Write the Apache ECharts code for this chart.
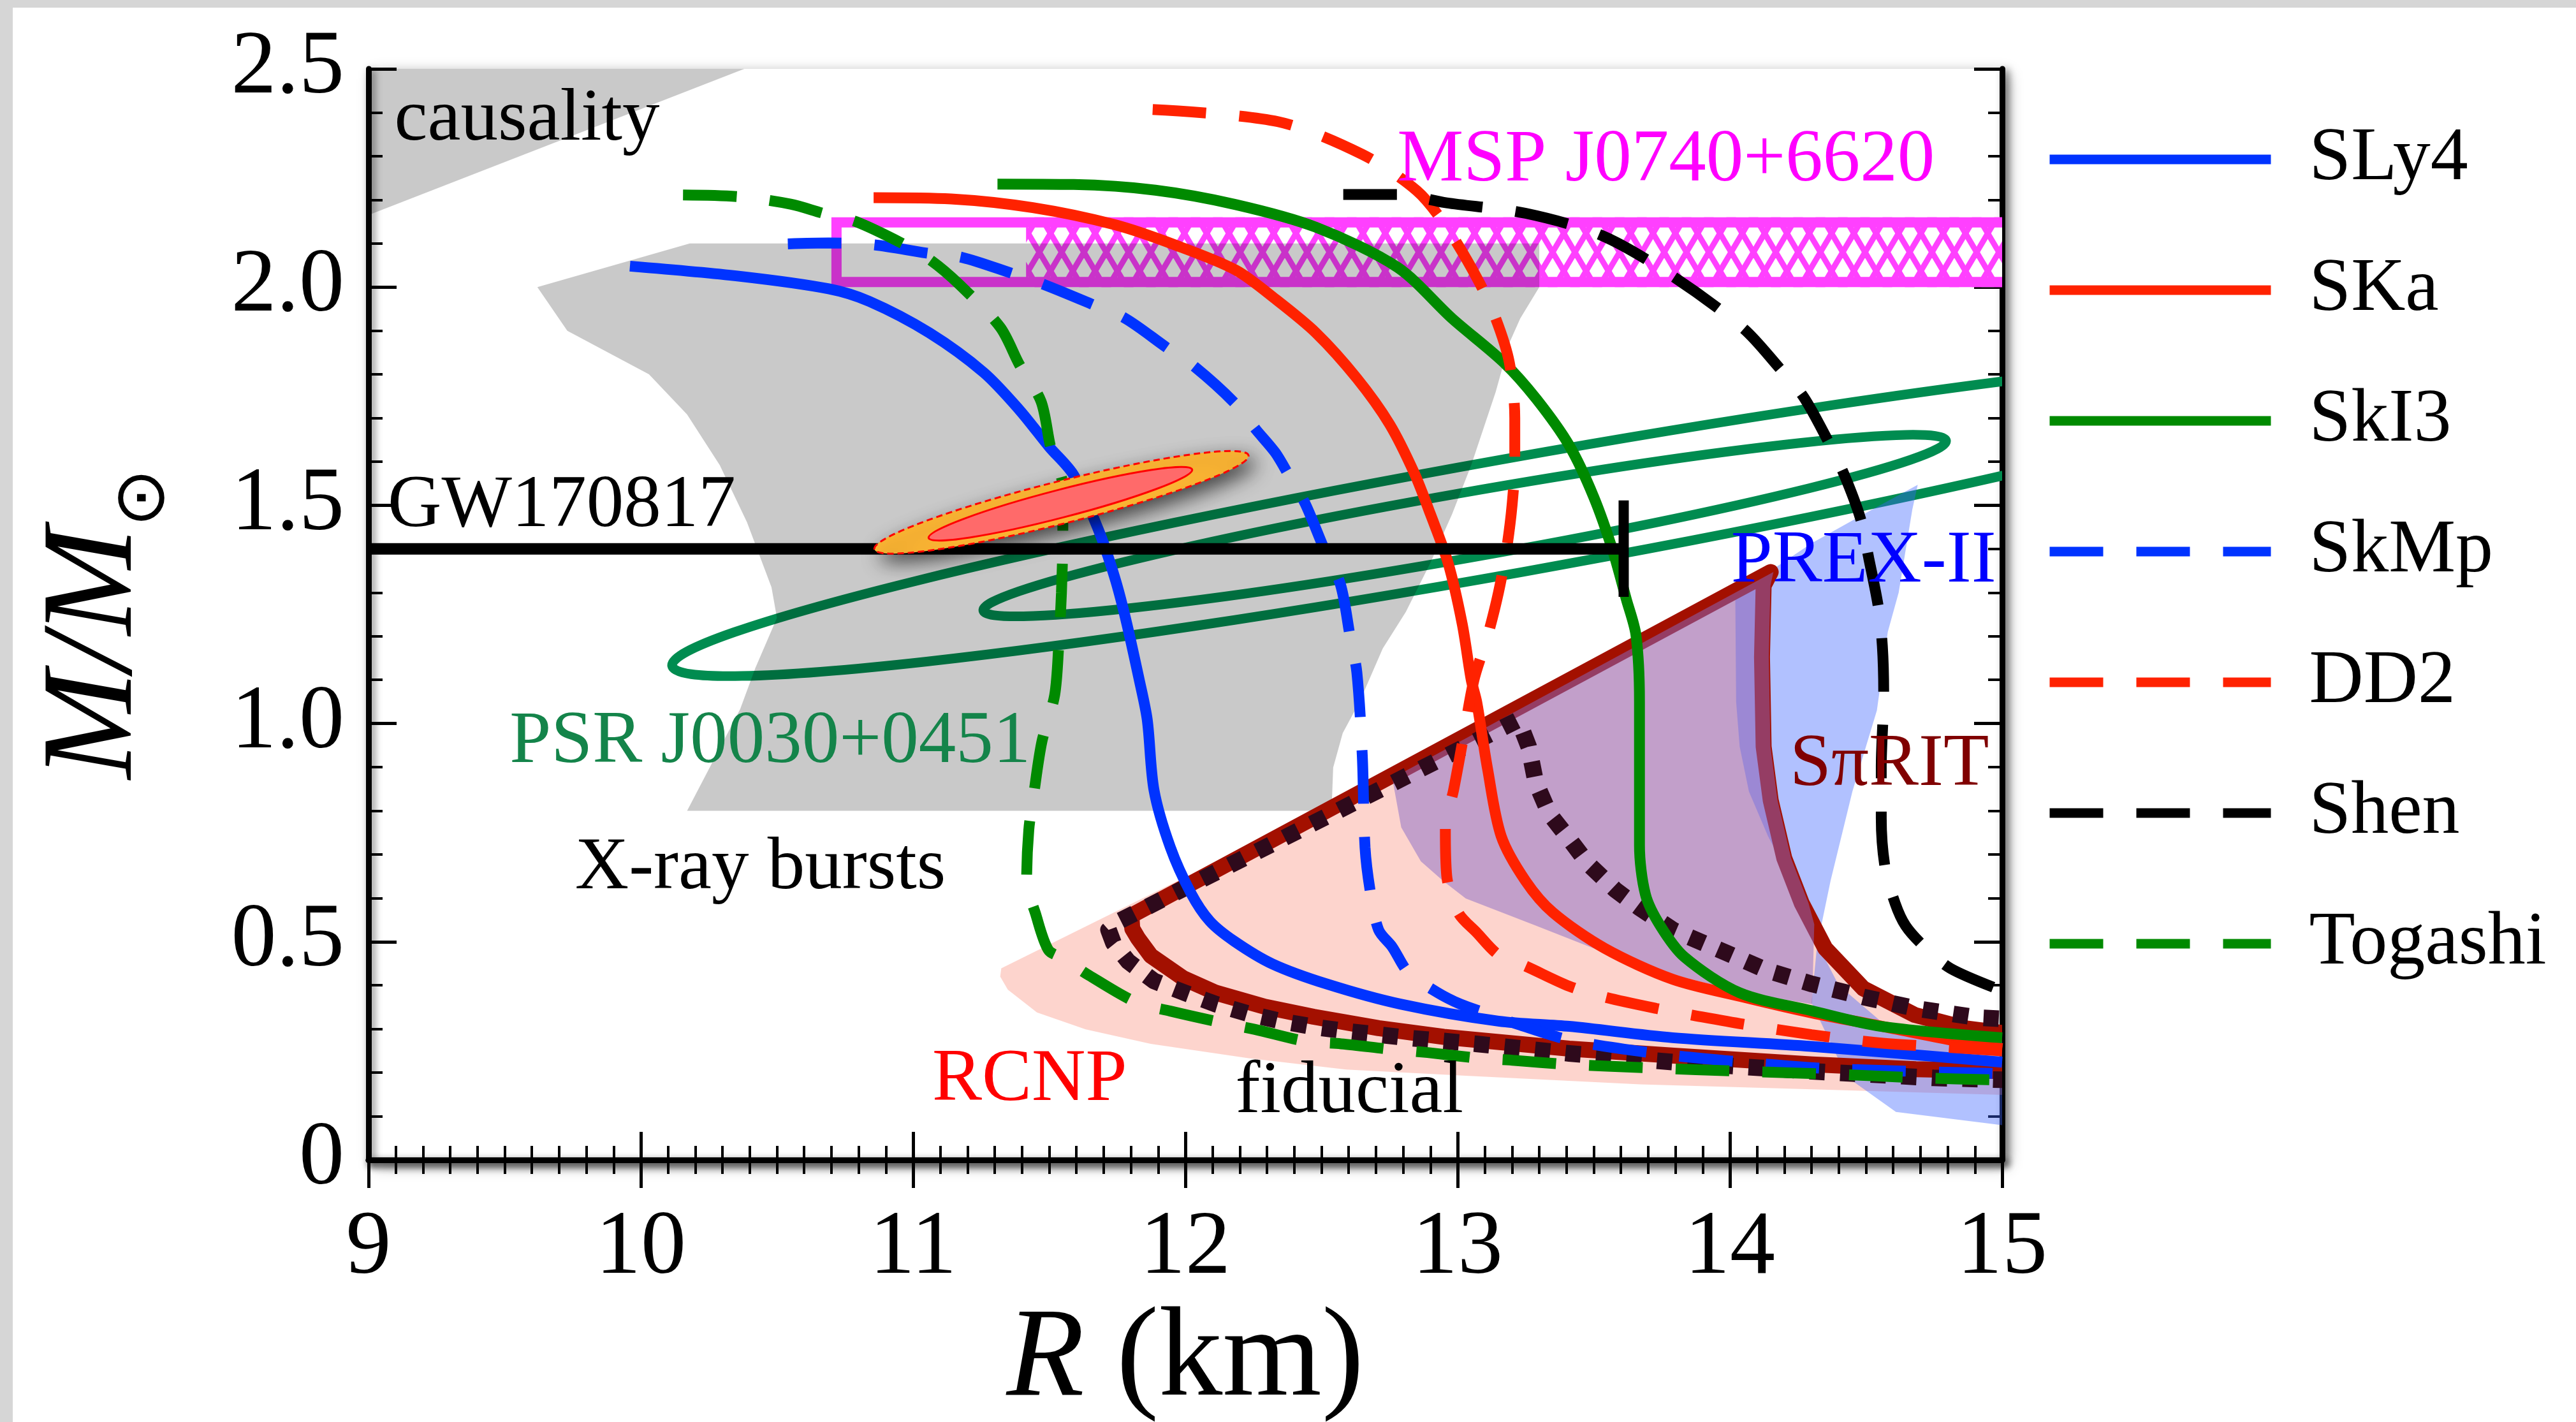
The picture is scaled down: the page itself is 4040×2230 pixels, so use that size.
<!DOCTYPE html>
<html>
<head>
<meta charset="utf-8">
<title>Neutron star M-R</title>
<script src="https://cdn.jsdelivr.net/npm/echarts/dist/echarts.min.js"></script>
<style>
  html, body { margin: 0; padding: 0; background: #d6d6d6; }
  #main { position: absolute; left: 20px; top: 12px; width: 4020px; height: 2218px; background: #fff; }
</style>
</head>
<body>
<div id="main"></div>
<script>
var FONT = "Liberation Serif";

// tick labels
var xTicks = [9, 10, 11, 12, 13, 14, 15];
var yTicks = [0, 0.5, 1.0, 1.5, 2.0, 2.5];

// EoS curves, [R (km), M/Msun]
var sly4 = [[9.96,2.048],[10.36,2.025],[10.69,1.996],[10.84,1.967],[11.06,1.895],[11.26,1.804],[11.39,1.719],[11.50,1.634],[11.59,1.569],[11.68,1.445],[11.74,1.336],[11.78,1.242],[11.83,1.102],[11.86,1.009],[11.885,0.847],[11.945,0.716],[12.02,0.612],[12.09,0.547],[12.18,0.501],[12.32,0.449],[12.52,0.403],[12.79,0.357],[13.15,0.318],[13.41,0.306],[13.79,0.28],[14.30,0.26],[15.0,0.224]];
var ska = [[10.855,2.205],[11.14,2.202],[11.44,2.182],[11.74,2.143],[11.96,2.097],[12.185,2.039],[12.33,1.973],[12.48,1.895],[12.63,1.791],[12.75,1.686],[12.84,1.575],[12.90,1.48],[12.965,1.368],[13.017,1.228],[13.05,1.10],[13.07,1.05],[13.11,0.896],[13.16,0.742],[13.25,0.639],[13.35,0.567],[13.54,0.485],[13.79,0.414],[14.05,0.373],[14.30,0.337],[14.56,0.306],[14.81,0.275],[15.0,0.255]];
var ski3 = [[11.31,2.236],[11.59,2.235],[11.89,2.222],[12.185,2.189],[12.48,2.137],[12.78,2.045],[12.98,1.928],[13.17,1.827],[13.29,1.743],[13.41,1.637],[13.50,1.519],[13.57,1.396],[13.62,1.284],[13.655,1.203],[13.668,1.05],[13.668,0.844],[13.668,0.721],[13.69,0.608],[13.744,0.537],[13.833,0.465],[14.036,0.383],[14.30,0.342],[14.556,0.306],[15.0,0.28]];
var skmp = [[10.54,2.099],[10.69,2.101],[10.855,2.097],[11.05,2.078],[11.18,2.068],[11.36,2.032],[11.48,2.006],[11.66,1.96],[11.78,1.928],[11.93,1.862],[12.035,1.817],[12.185,1.732],[12.26,1.673],[12.33,1.621],[12.38,1.569],[12.44,1.504],[12.51,1.40],[12.57,1.318],[12.605,1.2],[12.63,1.117],[12.65,0.925],[12.66,0.716],[12.68,0.612],[12.71,0.527],[12.76,0.488],[12.82,0.429],[12.925,0.384],[13.01,0.357],[13.1,0.337],[13.22,0.311],[13.41,0.275],[13.73,0.244],[14.05,0.224],[14.37,0.209],[15.0,0.198]];
var dd2 = [[11.88,2.407],[12.34,2.379],[12.65,2.304],[12.85,2.221],[12.96,2.137],[13.076,2.015],[13.14,1.928],[13.19,1.827],[13.21,1.70],[13.21,1.60],[13.20,1.50],[13.18,1.40],[13.15,1.30],[13.11,1.20],[13.06,1.10],[13.02,0.964],[12.985,0.847],[12.955,0.762],[12.96,0.651],[13.003,0.566],[13.07,0.521],[13.15,0.47],[13.25,0.444],[13.41,0.398],[13.54,0.373],[13.73,0.347],[13.86,0.332],[14.05,0.311],[14.30,0.287],[14.55,0.268],[14.80,0.258],[15.0,0.25]];
var shen = [[12.58,2.212],[12.78,2.212],[12.96,2.193],[13.25,2.169],[13.53,2.118],[13.79,2.025],[14.05,1.905],[14.18,1.816],[14.27,1.749],[14.36,1.648],[14.42,1.57],[14.48,1.469],[14.51,1.379],[14.545,1.268],[14.56,1.178],[14.565,1.07],[14.556,0.90],[14.556,0.783],[14.57,0.67],[14.607,0.588],[14.645,0.537],[14.71,0.491],[14.81,0.439],[15.0,0.388]];
var togashi = [[10.155,2.211],[10.36,2.207],[10.55,2.19],[10.67,2.169],[10.79,2.150],[10.96,2.10],[11.064,2.062],[11.17,2.006],[11.32,1.908],[11.39,1.823],[11.47,1.738],[11.505,1.634],[11.55,1.543],[11.55,1.432],[11.545,1.30],[11.535,1.18],[11.52,1.065],[11.473,0.958],[11.443,0.837],[11.425,0.756],[11.417,0.638],[11.449,0.566],[11.497,0.481],[11.551,0.462],[11.646,0.423],[11.82,0.361],[11.945,0.341],[12.13,0.315],[12.256,0.299],[12.441,0.272],[12.572,0.266],[12.764,0.253],[12.89,0.246],[13.08,0.233],[13.21,0.228],[13.40,0.219],[13.7,0.211],[14.05,0.203],[14.4,0.196],[14.7,0.188],[15.0,0.183]];

var eosNames = ["SLy4", "SKa", "SkI3", "SkMp", "DD2", "Shen", "Togashi"];
var eosData = [sly4, ska, ski3, skmp, dd2, shen, togashi];
var eosColor = ["#0033ff", "#ff2200", "#008a00", "#0033ff", "#ff2200", "#000000", "#008a00"];
var eosDashed = [false, false, false, true, true, true, true];

// observational / experimental constraints
var causality = [[9, 2.5], [10.38, 2.5], [9, 2.165]];
var xrayBursts = [[10.18,2.10],[13.30,2.10],[13.30,2.00],[13.23,1.928],[13.19,1.872],[13.14,1.76],[13.05,1.592],[12.98,1.48],[12.90,1.368],[12.81,1.256],[12.725,1.172],[12.64,1.05],[12.578,0.978],[12.543,0.899],[12.537,0.80],[10.17,0.80],[10.365,1.033],[10.42,1.126],[10.50,1.242],[10.48,1.312],[10.39,1.461],[10.29,1.592],[10.17,1.708],[10.03,1.80],[9.73,1.90],[9.62,2.00]];
var mspBand = [10.70, 15.3, 2.0, 2.16];   // R from, R to, M low, M high
var mspHatchFrom = 11.415;
var gw170817 = [[9, 1.40], [13.61, 1.40]];
var gwBar = [[13.61, 1.29], [13.61, 1.511]];
// ellipses: [R left tip, M left tip, R right tip, M right tip, half height at centre]
var gwEllipses = [[10.858,1.399,12.232,1.6145,0.05], [11.057,1.425,12.025,1.582,0.033]];
var psrEllipses = [[10.115,1.132,16.285,1.82,0.133], [11.258,1.259,14.794,1.648,0.076]];

var rcnp = [[11.324,0.439],[12.0,0.648],[13.0,0.965],[14.15,1.35],[14.124,1.316],[14.118,1.152],[14.124,0.947],[14.15,0.824],[14.20,0.691],[14.264,0.588],[14.35,0.485],[14.49,0.393],[14.68,0.332],[14.87,0.301],[15.1,0.285],[15.1,0.147],[14.30,0.162],[13.67,0.173],[13.03,0.193],[12.59,0.207],[12.232,0.233],[11.873,0.266],[11.634,0.299],[11.455,0.338],[11.348,0.390],[11.32,0.42]];
var prex = [[14.69,1.547],[14.67,1.49],[14.62,1.30],[14.58,1.21],[14.54,1.03],[14.45,0.844],[14.37,0.64],[14.32,0.49],[14.30,0.36],[14.43,0.19],[14.61,0.11],[15.1,0.072],[15.1,0.27],[14.75,0.285],[14.55,0.32],[14.40,0.40],[14.30,0.52],[14.21,0.66],[14.14,0.742],[14.07,0.844],[14.036,0.947],[14.023,1.05],[14.02,1.284],[14.15,1.35],[14.30,1.413],[14.493,1.48]];
var spirit = [[14.16,1.347],[12.76,0.875],[12.793,0.762],[12.865,0.684],[12.949,0.638],[13.03,0.599],[13.287,0.537],[13.54,0.475],[13.795,0.424],[14.048,0.383],[14.302,0.357],[14.31,0.54],[14.289,0.588],[14.225,0.691],[14.175,0.824],[14.149,0.947],[14.143,1.152],[14.149,1.316]];
var fiducial = [[15.1,0.283],[14.87,0.301],[14.68,0.332],[14.49,0.393],[14.35,0.485],[14.264,0.588],[14.20,0.691],[14.15,0.824],[14.124,0.947],[14.118,1.152],[14.124,1.316],[14.15,1.347],[11.802,0.56],[11.805,0.53],[11.826,0.508],[11.873,0.468],[11.993,0.416],[12.112,0.383],[12.292,0.351],[12.471,0.328],[12.71,0.302],[12.949,0.282],[13.41,0.255],[13.794,0.239],[14.302,0.219],[14.683,0.208],[15.1,0.202]];
var dotted = [[15.1,0.32],[14.91,0.326],[14.683,0.347],[14.493,0.373],[14.302,0.403],[14.137,0.434],[13.985,0.475],[13.794,0.526],[13.667,0.578],[13.579,0.619],[13.477,0.68],[13.414,0.732],[13.337,0.793],[13.287,0.865],[13.261,0.947],[13.223,1.0085],[11.75,0.545],[11.718,0.527],[11.736,0.497],[11.79,0.455],[11.885,0.410],[11.993,0.384],[12.112,0.357],[12.232,0.335],[12.351,0.318],[12.471,0.305],[12.59,0.295],[12.829,0.279],[13.068,0.266],[13.41,0.244],[13.794,0.224],[14.302,0.203],[14.747,0.188],[15.1,0.182]];

// text annotations: anchor = left end of the baseline
var annoPos = [[9.095,2.342],[9.07,1.456],[12.778,2.2485],[9.518,0.915],[9.758,0.626],[11.07,0.141],[12.184,0.113],[14.22,0.863],[14.004,1.3285]];
var annoText = ["causality", "GW170817", "MSP J0740+6620", "PSR J0030+0451", "X-ray bursts", "RCNP", "fiducial", "S\u03c0RIT", "PREX-II"];
var annoColor = ["#000", "#000", "#ff00ff", "#14844a", "#000", "#ff0000", "#000", "#800000", "#0000ff"];

function makeHatch() {
  var c = document.createElement("canvas");
  c.width = 35; c.height = 59;
  var g = c.getContext("2d");
  g.fillStyle = "#fff";
  g.fillRect(0, 0, 35, 59);
  g.strokeStyle = "#ff40ff";
  g.lineWidth = 9;
  var k = 35 / 59;
  [-17.5, 17.5].forEach(function (x0) {
    g.beginPath(); g.moveTo(x0 - k * 10, -10); g.lineTo(x0 + k * 69, 69); g.stroke();
  });
  [17.5, 52.5].forEach(function (x0) {
    g.beginPath(); g.moveTo(x0 + k * 10, -10); g.lineTo(x0 - k * 69, 69); g.stroke();
  });
  return c;
}
var hatch = { image: makeHatch(), repeat: "repeat" };

function polygonSeries(pts, fill, z) {
  return {
    type: "custom", z: z, silent: true, clip: true, data: pts, encode: { x: 0, y: 1 },
    renderItem: function (params, api) {
      if (params.dataIndex !== 0) return null;
      return { type: "polygon", shape: { points: pts.map(function (p) { return api.coord(p); }) }, style: { fill: fill } };
    }
  };
}

function pathSeries(pts, stroke, width, dash, z) {
  return {
    type: "custom", z: z, silent: true, clip: true, data: pts, encode: { x: 0, y: 1 },
    renderItem: function (params, api) {
      if (params.dataIndex !== 0) return null;
      return {
        type: "polyline",
        shape: { points: pts.map(function (p) { return api.coord(p); }) },
        style: { fill: null, stroke: stroke, lineWidth: width, lineDash: dash, lineJoin: "round", lineCap: dash ? "butt" : "round" }
      };
    }
  };
}

function ellipseSeries(rows, styles, z) {
  return {
    type: "custom", z: z, silent: true, clip: true, data: rows, encode: { x: [0, 2], y: [1, 3] },
    renderItem: function (params, api) {
      var p1 = api.coord([api.value(0), api.value(1)]);
      var p2 = api.coord([api.value(2), api.value(3)]);
      var h = api.size([0, api.value(4)])[1];
      var dx = p2[0] - p1[0], dy = p2[1] - p1[1];
      var rot = Math.atan2(-dy, dx);
      return {
        type: "ellipse",
        x: (p1[0] + p2[0]) / 2, y: (p1[1] + p2[1]) / 2, rotation: rot,
        shape: { cx: 0, cy: 0, rx: Math.sqrt(dx * dx + dy * dy) / 2, ry: h * Math.cos(rot) },
        style: styles[params.dataIndex]
      };
    }
  };
}

var series = [];

// MSP J0740+6620 band
series.push({
  type: "custom", z: 1, silent: true, clip: true, data: [[mspBand[0], mspBand[2]]], encode: { x: 0, y: 1 },
  renderItem: function (params, api) {
    var a = api.coord([mspBand[0], mspBand[3]]);
    var b = api.coord([mspBand[1], mspBand[2]]);
    var h0 = api.coord([mspHatchFrom, mspBand[3]])[0];
    return {
      type: "group", children: [
        { type: "rect", shape: { x: h0, y: a[1], width: b[0] - h0, height: b[1] - a[1] }, style: { fill: hatch } },
        { type: "rect", shape: { x: a[0] + 8, y: a[1] + 8, width: b[0] - a[0] - 16, height: b[1] - a[1] - 16 },
          style: { fill: null, stroke: "#ff40ff", lineWidth: 16 } }
      ]
    };
  }
});

series.push(ellipseSeries(psrEllipses, [
  { fill: null, stroke: "#008c50", lineWidth: 15 },
  { fill: null, stroke: "#008c50", lineWidth: 15 }
], 1));

series.push(polygonSeries(causality, "rgba(0,0,0,0.21)", 2));
series.push(polygonSeries(xrayBursts, "rgba(0,0,0,0.21)", 2));
series.push(polygonSeries(rcnp, "rgba(250,120,100,0.32)", 2));
series.push(polygonSeries(prex, "rgba(60,100,255,0.40)", 2));
series.push(pathSeries(fiducial, "#a31000", 25, null, 2));
series.push(polygonSeries(spirit, "rgba(135,105,200,0.5)", 2));
series.push(pathSeries(dotted, "#2e0a1c", 26, [24, 24], 2));

eosNames.forEach(function (name, i) {
  series.push({
    type: "line", name: name, data: eosData[i], z: 3, silent: true,
    symbol: "none", showSymbol: false, smooth: 0.3, color: eosColor[i],
    lineStyle: { color: eosColor[i], width: 17, type: eosDashed[i] ? [84, 52] : "solid", cap: "butt" }
  });
});

series.push({ type: "line", data: gw170817, z: 3, silent: true, symbol: "none", color: "#000", lineStyle: { color: "#000", width: 18 } });
series.push({ type: "line", data: gwBar, z: 3, silent: true, symbol: "none", color: "#000", lineStyle: { color: "#000", width: 16 } });

series.push(ellipseSeries(gwEllipses, [
  { fill: "#fdb634", stroke: "#ff0000", lineWidth: 3, lineDash: [10, 6],
    shadowBlur: 30, shadowColor: "rgba(0,0,0,0.65)", shadowOffsetX: 10, shadowOffsetY: 12 },
  { fill: "#ff6a6a", stroke: "#ff0000", lineWidth: 3 }
], 4));

series.push({
  type: "custom", z: 5, silent: true, clip: true, data: annoPos, encode: { x: 0, y: 1 },
  renderItem: function (params, api) {
    var p = api.coord([api.value(0), api.value(1)]);
    var fs = 117;
    return {
      type: "text", x: p[0], y: p[1] - 0.24 * fs,
      style: { text: annoText[params.dataIndex], fill: annoColor[params.dataIndex],
               font: fs + "px '" + FONT + "'", fontSize: fs, fontFamily: FONT,
               align: "left", verticalAlign: "middle" }
    };
  }
});

function axisCommon(showLabel) {
  return {
    axisLine: { show: true, lineStyle: { color: "#000", width: 9, shadowBlur: 12, shadowColor: "rgba(0,0,0,0.45)", shadowOffsetX: 5, shadowOffsetY: 5 } },
    axisTick: { show: true, inside: true, length: 44, lineStyle: { color: "#000", width: 5 } },
    minorTick: { show: true, length: 22, lineStyle: { color: "#000", width: 4 } },
    splitLine: { show: false },
    axisLabel: { show: showLabel, color: "#000", fontFamily: FONT, fontSize: 142 }
  };
}

var xBottom = axisCommon(true);
xBottom.type = "value"; xBottom.min = xTicks[0]; xBottom.max = xTicks[xTicks.length - 1]; xBottom.interval = 1;
xBottom.position = "bottom"; xBottom.minorTick.splitNumber = 10; xBottom.axisLabel.margin = 69;
xBottom.name = "{i|R} (km)"; xBottom.nameLocation = "middle"; xBottom.nameGap = 212;
xBottom.nameTextStyle = { color: "#000", fontFamily: FONT, fontSize: 200, lineHeight: 200,
  rich: { i: { fontStyle: "italic", fontFamily: FONT, fontSize: 200, lineHeight: 200 } } };
var xTop = axisCommon(false);
xTop.type = "value"; xTop.min = xTicks[0]; xTop.max = xTicks[xTicks.length - 1]; xTop.interval = 1;
xTop.position = "top"; xTop.minorTick.splitNumber = 10;

var yLeft = axisCommon(true);
yLeft.type = "value"; yLeft.min = yTicks[0]; yLeft.max = yTicks[yTicks.length - 1]; yLeft.interval = 0.5;
yLeft.position = "left"; yLeft.minorTick.splitNumber = 5; yLeft.axisLabel.margin = 38;
yLeft.axisLabel.formatter = function (v) { return v === 0 ? "0" : v.toFixed(1); };
var yRight = axisCommon(false);
yRight.type = "value"; yRight.min = yTicks[0]; yRight.max = yTicks[yTicks.length - 1]; yRight.interval = 0.5;
yRight.position = "right"; yRight.minorTick.splitNumber = 5;

var chart = echarts.init(document.getElementById("main"));
chart.setOption({
  animation: false,
  backgroundColor: "#fff",
  textStyle: { fontFamily: FONT },
  grid: { left: 558, top: 96, right: 900, bottom: 411, show: true, backgroundColor: "#fff",
          borderColor: "#000", borderWidth: 0, shadowBlur: 22, shadowColor: "rgba(0,0,0,0.45)",
          shadowOffsetX: 8, shadowOffsetY: 8, containLabel: false, outerBoundsMode: "none" },
  xAxis: [xBottom, xTop],
  yAxis: [yLeft, yRight],
  legend: {
    data: eosNames, orient: "vertical", left: 3187, top: 173, padding: 0,
    itemWidth: 347, itemHeight: 2, itemGap: 75, selectedMode: false,
    lineStyle: { width: 15 },
    itemStyle: { opacity: 0 },
    textStyle: { color: "#000", fontFamily: FONT, fontSize: 118, lineHeight: 130, padding: [0, 0, 0, 55] }
  },
  graphic: [{
    type: "text", x: 132, y: 966, rotation: Math.PI / 2,
    style: {
      text: "{m|M/M}{s|\u2299}",
      align: "center", verticalAlign: "middle", fill: "#000",
      rich: {
        m: { fontSize: 203, fontStyle: "italic", fontFamily: FONT, lineHeight: 260, verticalAlign: "middle" },
        s: { fontSize: 110, fontFamily: "DejaVu Sans", lineHeight: 110, verticalAlign: "bottom" }
      }
    }
  }],
  series: series
});
</script>
</body>
</html>
